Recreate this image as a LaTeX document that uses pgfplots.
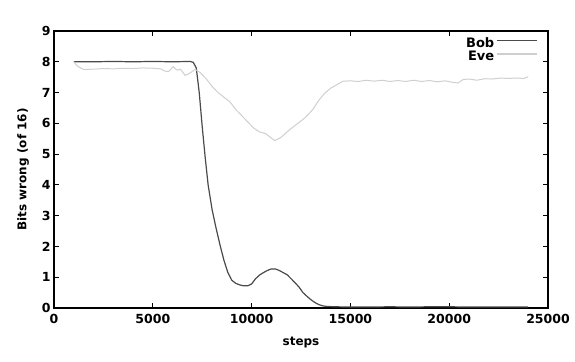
\documentclass[border=0pt]{standalone}
\usepackage{fontspec}
\setmainfont{DejaVu Sans}
\usepackage{pgfplots}
\pgfplotsset{compat=1.18}
\definecolor{bobc}{HTML}{4A4A4A}
\definecolor{evec}{HTML}{CFCFCF}
\begin{document}
\begin{tikzpicture}
\begin{axis}[
  name=ax,
  scale only axis,
  width=494pt, height=277pt,
  xmin=0, xmax=25000, ymin=0, ymax=9,
  xtick={0,5000,...,25000}, ytick={0,1,...,9},
  scaled x ticks=false,
  /pgf/number format/assume math mode=true,
  /pgf/number format/set thousands separator={},
  ticklabel style={font=\fontsize{12.5}{14}\selectfont\bfseries},
  xticklabel style={yshift=-3pt},
  tick align=inside,
  major tick length=5pt,
  tick style={black, line width=0.9pt},
  axis line style={black, line width=1.3pt},
  xlabel={steps}, ylabel={Bits wrong (of 16)},
  label style={font=\fontsize{12}{14}\selectfont\bfseries},
  xlabel style={yshift=-6pt},
  ylabel style={yshift=6pt},
  legend style={draw=none, fill=none, at={(0.985,0.99)}, anchor=north east,
    font=\fontsize{13}{15}\selectfont\bfseries, row sep=-2pt},
  legend cell align=right,
  legend plot pos=right,
  legend image code/.code={\draw[#1, line width=1.3pt] (0.15cm,0.1cm) -- (1.55cm,0.1cm);},
]
\addplot[bobc, line width=1.2pt] coordinates {
(1000,8.0) (2000,8.0) (3000,8.01) (4000,8.0) (5000,8.01) (6000,8.0) (6900,8.01) (7050,7.98)
(7200,7.8) (7350,7.0) (7500,5.9) (7650,4.9) (7800,4.0) (8000,3.2) (8200,2.6) (8400,2.05)
(8600,1.55) (8800,1.15) (9000,0.9) (9200,0.8) (9400,0.75) (9600,0.72) (9800,0.72) (10000,0.78)
(10200,0.95) (10400,1.07) (10600,1.15) (10800,1.22) (11000,1.27) (11200,1.27) (11400,1.22)
(11600,1.15) (11800,1.08) (12000,0.95) (12200,0.82) (12400,0.68) (12600,0.5) (12800,0.38)
(13000,0.27) (13200,0.18) (13400,0.11) (13600,0.07) (13800,0.05) (14200,0.04) (15000,0.03)
(16000,0.03) (17000,0.04) (18000,0.03) (19000,0.04) (20000,0.04) (21000,0.03) (22000,0.03)
(23000,0.03) (24000,0.03)
};
\addlegendentry{Bob}
\addplot[evec, line width=1.0pt] coordinates {
(1000,8.0) (1200,7.85) (1500,7.75) (2000,7.76) (2500,7.78) (3000,7.77) (3500,7.79)
(4000,7.78) (4500,7.80) (5000,7.79) (5400,7.77) (5600,7.7) (5800,7.68) (6030,7.84)
(6220,7.73) (6400,7.76) (6630,7.56) (6850,7.62) (7140,7.75) (7400,7.65) (7700,7.45)
(8000,7.2) (8300,7.0) (8600,6.85) (8900,6.7) (9200,6.45) (9500,6.25) (9800,6.05)
(10100,5.85) (10400,5.72) (10700,5.67) (11000,5.52) (11180,5.44) (11500,5.55) (11900,5.78)
(12300,5.98) (12700,6.18) (13100,6.45) (13400,6.75) (13700,6.98) (14000,7.14) (14300,7.25)
(14630,7.37) (15000,7.38) (15400,7.36) (15800,7.40) (16200,7.37) (16600,7.40) (17000,7.36)
(17400,7.39) (17800,7.36) (18200,7.40) (18600,7.36) (19000,7.39) (19400,7.35) (19800,7.38)
(20200,7.33) (20440,7.31) (20700,7.42) (21000,7.44) (21400,7.40) (21800,7.45) (22200,7.44)
(22600,7.47) (23000,7.46) (23400,7.47) (23800,7.46) (24000,7.52)
};
\addlegendentry{Eve}
\end{axis}
\path ([shift={(-54pt,-54pt)}]ax.south west) rectangle ([shift={(27pt,31pt)}]ax.north east);
\end{tikzpicture}
\end{document}
